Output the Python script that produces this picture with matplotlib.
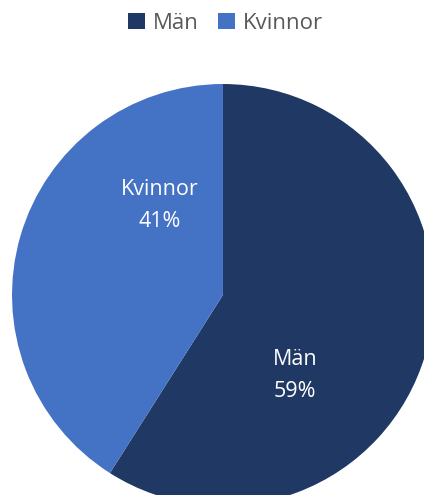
import matplotlib.pyplot as plt

plt.rcParams['font.family'] = ['Open Sans', 'DejaVu Sans']

labels = ["Män", "Kvinnor"]
shares = [59, 41]
colors = ["#203864", "#4472C4"]

fig = plt.figure(figsize=(4.24, 4.95), dpi=100)
ax = fig.add_axes([0, 0, 1, 1])

wedges, _ = ax.pie(shares, colors=colors, startangle=90, counterclock=False,
                   radius=1.0, center=(0, 0))

# etiketter inne i sektorerna
pos = [(0.34, -0.38), (-0.30, 0.425)]
for lab, val, (x, y) in zip(labels, shares, pos):
    ax.text(x, y, f"{lab}\n{val}%", color="white", fontsize=15.5,
            ha="center", va="center", linespacing=1.7)

ax.set_xlim(-1.057, 0.953)
ax.set_ylim(-0.948, 1.398)
ax.set_aspect("equal")
ax.axis("off")

leg = fig.legend(wedges, labels, loc="upper center", bbox_to_anchor=(0.532, 1.015),
                 ncol=2, frameon=False, fontsize=16, handlelength=0.75,
                 handleheight=0.75, handletextpad=0.35, columnspacing=0.9)
for t in leg.get_texts():
    t.set_color("#595959")

fig.savefig("out.png", dpi=100)
